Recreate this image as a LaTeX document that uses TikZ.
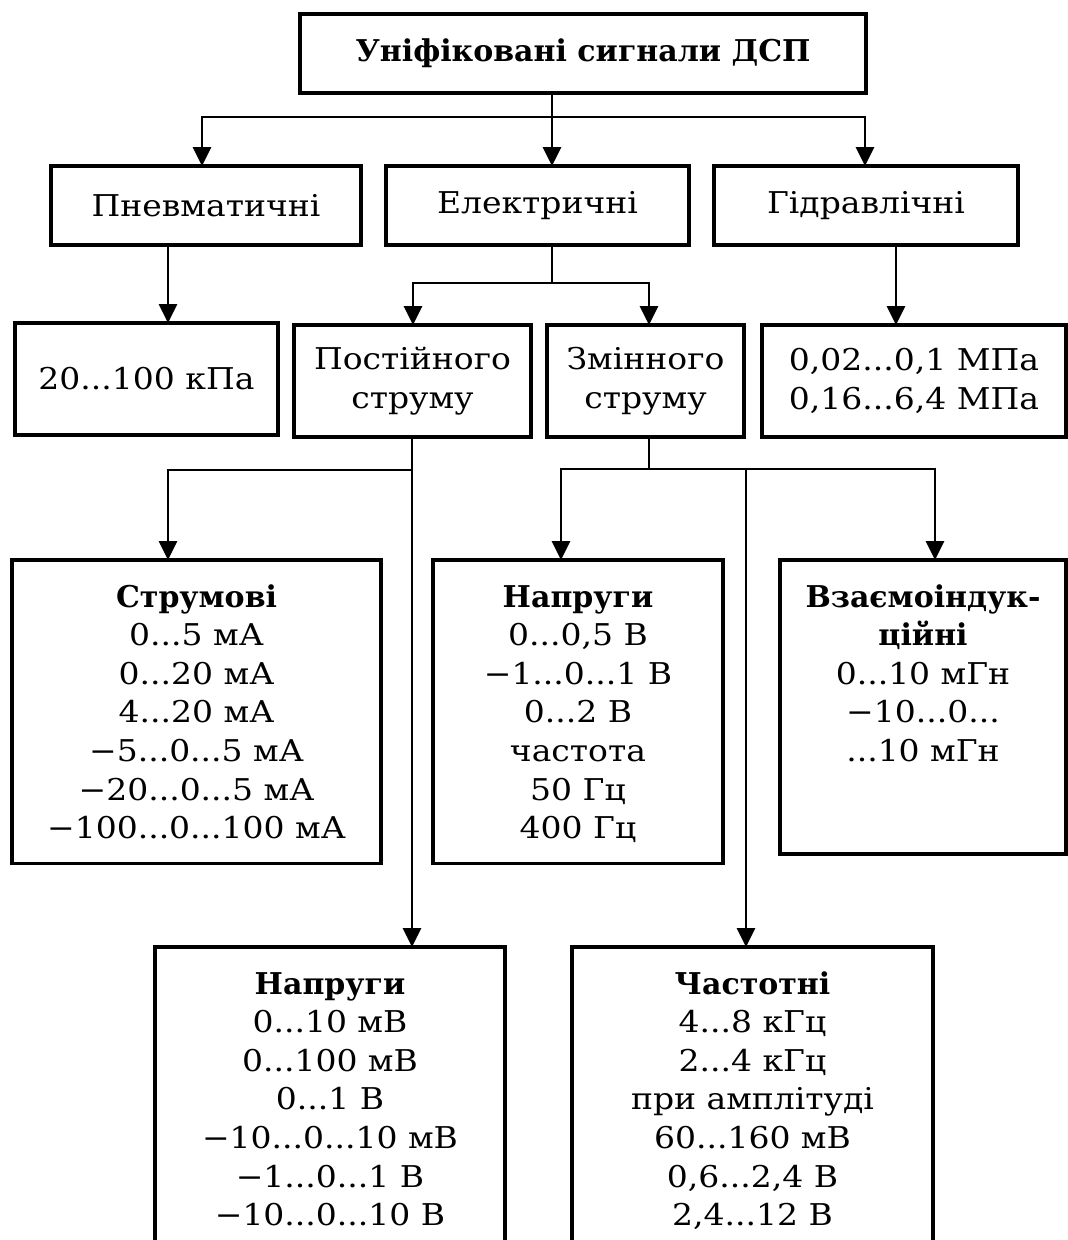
\documentclass[tikz,border=0pt]{standalone}
\usepackage{fontspec}
\setmainfont{DejaVu Serif}[FakeStretch=1.1, BoldFeatures={FakeStretch=1.0}]
\usetikzlibrary{arrows.meta}

\newcommand{\sigfont}{\fontsize{30}{38.6}\selectfont}

\tikzset{
	sigbox/.style={draw, line width=3.2pt, outer sep=0pt, inner sep=0pt, align=center, font=\sigfont},
	tallbox/.style={sigbox, anchor=north, inner ysep=25pt},
	conn/.style={line width=2.8pt},
	arrow/.style={conn, -{Triangle[length=19pt,width=18pt]}}
}

\begin{document}
\begin{tikzpicture}[x=1pt, y=-1pt]

	\path[use as bounding box, fill=white] (0,0) rectangle (1068,1240);

	% Node definitions.
	\node[sigbox, minimum width=566, minimum height=79]    (top) at (583,53.5)  {\textbf{Уніфіковані сигнали ДСП}};
	\node[sigbox, minimum width=310, minimum height=79]   (pnev) at (206,205.5) {Пневматичні};
	\node[sigbox, minimum width=303, minimum height=79]   (elek) at (537.5,205.5) {Електричні};
	\node[sigbox, minimum width=304, minimum height=79]   (hidr) at (866,205.5) {Гідравлічні};
	\node[sigbox, minimum width=263, minimum height=112]   (kpa) at (146.5,379) {20...100 кПа};
	\node[sigbox, minimum width=237, minimum height=112]  (post) at (412.5,381) {Постійного\\струму};
	\node[sigbox, minimum width=197, minimum height=112]  (zmin) at (645.5,381) {Змінного\\струму};
	\node[sigbox, minimum width=304, minimum height=112]   (mpa) at (914,381)   {0,02...0,1 МПа\\0,16...6,4 МПа};

	% Tall boxes: text height = 22pt + lines below the first.
	\node[tallbox, minimum width=369, text height=253.6pt, text depth=-3.6pt] (strum) at (196.5,560)
		{\textbf{Струмові}\\0...5 мА\\0...20 мА\\4...20 мА\\−5...0...5 мА\\−20...0...5 мА\\−100...0...100 мА};
	\node[tallbox, minimum width=290, text height=253.6pt, text depth=-6.6pt] (napr1) at (578,560)
		{\textbf{Напруги}\\0...0,5 В\\−1...0...1 В\\0...2 В\\частота\\50 Гц\\400 Гц};
	\node[tallbox, minimum width=286, text height=176.4pt, text depth=67.6pt] (vzaem) at (923,560)
		{\textbf{Взаємоіндук-}\\\textbf{ційні}\\0...10 мГн\\−10...0...\\...10 мГн};
	\node[tallbox, minimum width=350, text height=253.6pt, text depth=100pt] (napr2) at (330,947)
		{\textbf{Напруги}\\0...10 мВ\\0...100 мВ\\0...1 В\\−10...0...10 мВ\\−1...0...1 В\\−10...0...10 В};
	\node[tallbox, minimum width=361, text height=253.6pt, text depth=100pt] (chast) at (752.5,947)
		{\textbf{Частотні}\\4...8 кГц\\2...4 кГц\\при амплітуді\\60...160 мВ\\0,6...2,4 В\\2,4...12 В};

	% Split points and arrow columns.
	\coordinate  (top_split) at (552,117);
	\coordinate (elek_split) at (552,283);
	\coordinate (post_split) at (412,470);
	\coordinate (zmin_split) at (649,469);
	\coordinate    (c_pnev) at (202,0);
	\coordinate    (c_hidr) at (865,0);
	\coordinate     (c_kpa) at (168,0);
	\coordinate     (c_mpa) at (896,0);
	\coordinate    (c_post) at (413,0);
	\coordinate    (c_zmin) at (649,0);
	\coordinate   (c_napr1) at (561,0);
	\coordinate   (c_vzaem) at (935,0);
	\coordinate   (c_chast) at (746,0);

	% Arrows.
	\draw[conn] (top.south -| top_split) -- (top_split);
	\draw[arrow] (top_split) -| (pnev.north -| c_pnev);
	\draw[arrow] (top_split) -- (elek.north -| top_split);
	\draw[arrow] (top_split) -| (hidr.north -| c_hidr);

	\draw[arrow] (pnev.south -| c_kpa) -- (kpa.north -| c_kpa);
	\draw[arrow] (hidr.south -| c_mpa) -- (mpa.north -| c_mpa);

	\draw[conn] (elek.south -| elek_split) -- (elek_split);
	\draw[arrow] (elek_split) -| (post.north -| c_post);
	\draw[arrow] (elek_split) -| (zmin.north -| c_zmin);

	\draw[conn] (post.south -| post_split) -- (post_split);
	\draw[arrow] (post_split) -| (strum.north -| c_kpa);
	\draw[arrow] (post_split) -- (napr2.north -| post_split);

	\draw[conn] (zmin.south -| zmin_split) -- (zmin_split);
	\draw[arrow] (zmin_split) -| (napr1.north -| c_napr1);
	\draw[arrow] (zmin_split) -| (vzaem.north -| c_vzaem);
	\draw[arrow] (zmin_split -| c_chast) -- (chast.north -| c_chast);

\end{tikzpicture}
\end{document}
